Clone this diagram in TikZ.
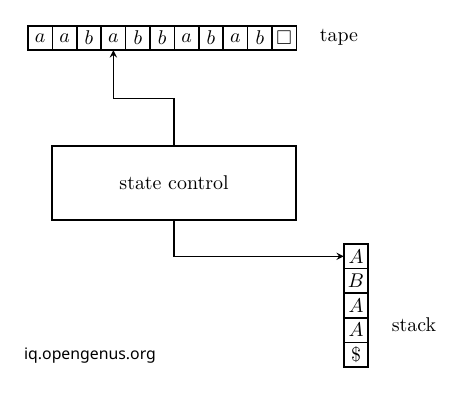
\documentclass[tikz,border=0pt]{standalone}
\usepackage{amsmath,amssymb}
\usepackage{fontspec}
\newfontfamily\sitefont{Noto Sans}
\usetikzlibrary{positioning, arrows.meta}

\begin{document}
\begin{tikzpicture}[
    thick, x=0.55pt, y=0.55pt,
    cell/.style={draw, rectangle, minimum size=13.4pt, inner sep=0pt, outer sep=0pt, fill=white, font=\fontsize{10.95}{13}\selectfont},
    control/.style={draw, rectangle, minimum width=134pt, minimum height=40.7pt, align=center, fill=white, font=\fontsize{10.95}{13}\selectfont},
    label/.style={font=\fontsize{10.95}{13}\selectfont}
]
    \useasboundingbox (0,0) rectangle (474,405);

    % ================= TAPE =================
    \node[cell] (t1) at (40.2, 367) {$a$};
    \node[cell] (t2) at (64.6, 367) {$a$};
    \node[cell] (t3) at (89.0, 367) {$b$};
    \node[cell] (t4) at (113.4, 367) {$a$};
    \node[cell] (t5) at (137.8, 367) {$b$};
    \node[cell] (t6) at (162.2, 367) {$b$};
    \node[cell] (t7) at (186.6, 367) {$a$};
    \node[cell] (t8) at (211.0, 367) {$b$};
    \node[cell] (t9) at (235.4, 367) {$a$};
    \node[cell] (t10) at (259.8, 367) {$b$};
    \node[cell] (t11) at (284.2, 367) {$\square$};
    \node[label] (tape) at (339, 368) {tape};

    % ================= STATE CONTROL =================
    \node[control] (ctrl) at (174, 222) {state control};

    % ================= STACK =================
    \node[cell] (s1) at (356, 148.7) {$A$};
    \node[cell] (s2) at (356, 124.1) {$B$};
    \node[cell] (s3) at (356, 99.5) {$A$};
    \node[cell] (s4) at (356, 74.9) {$A$};
    \node[cell] (s5) at (356, 50.3) {$\$$};
    \node[label] (stack) at (414, 80) {stack};

    % ================= CONNECTIONS =================
    % read head on the tape
    \draw[->, >=stealth] (ctrl.north) -- ++(0,47) -| (t4.south);
    % top of the stack
    \draw[->, >=stealth] (ctrl.south) |- (s1.west);

    % ================= WATERMARK =================
    \node[font=\sitefont\fontsize{8.7}{10}\selectfont] (site) at (90, 49) {iq.opengenus.org};

\end{tikzpicture}
\end{document}
